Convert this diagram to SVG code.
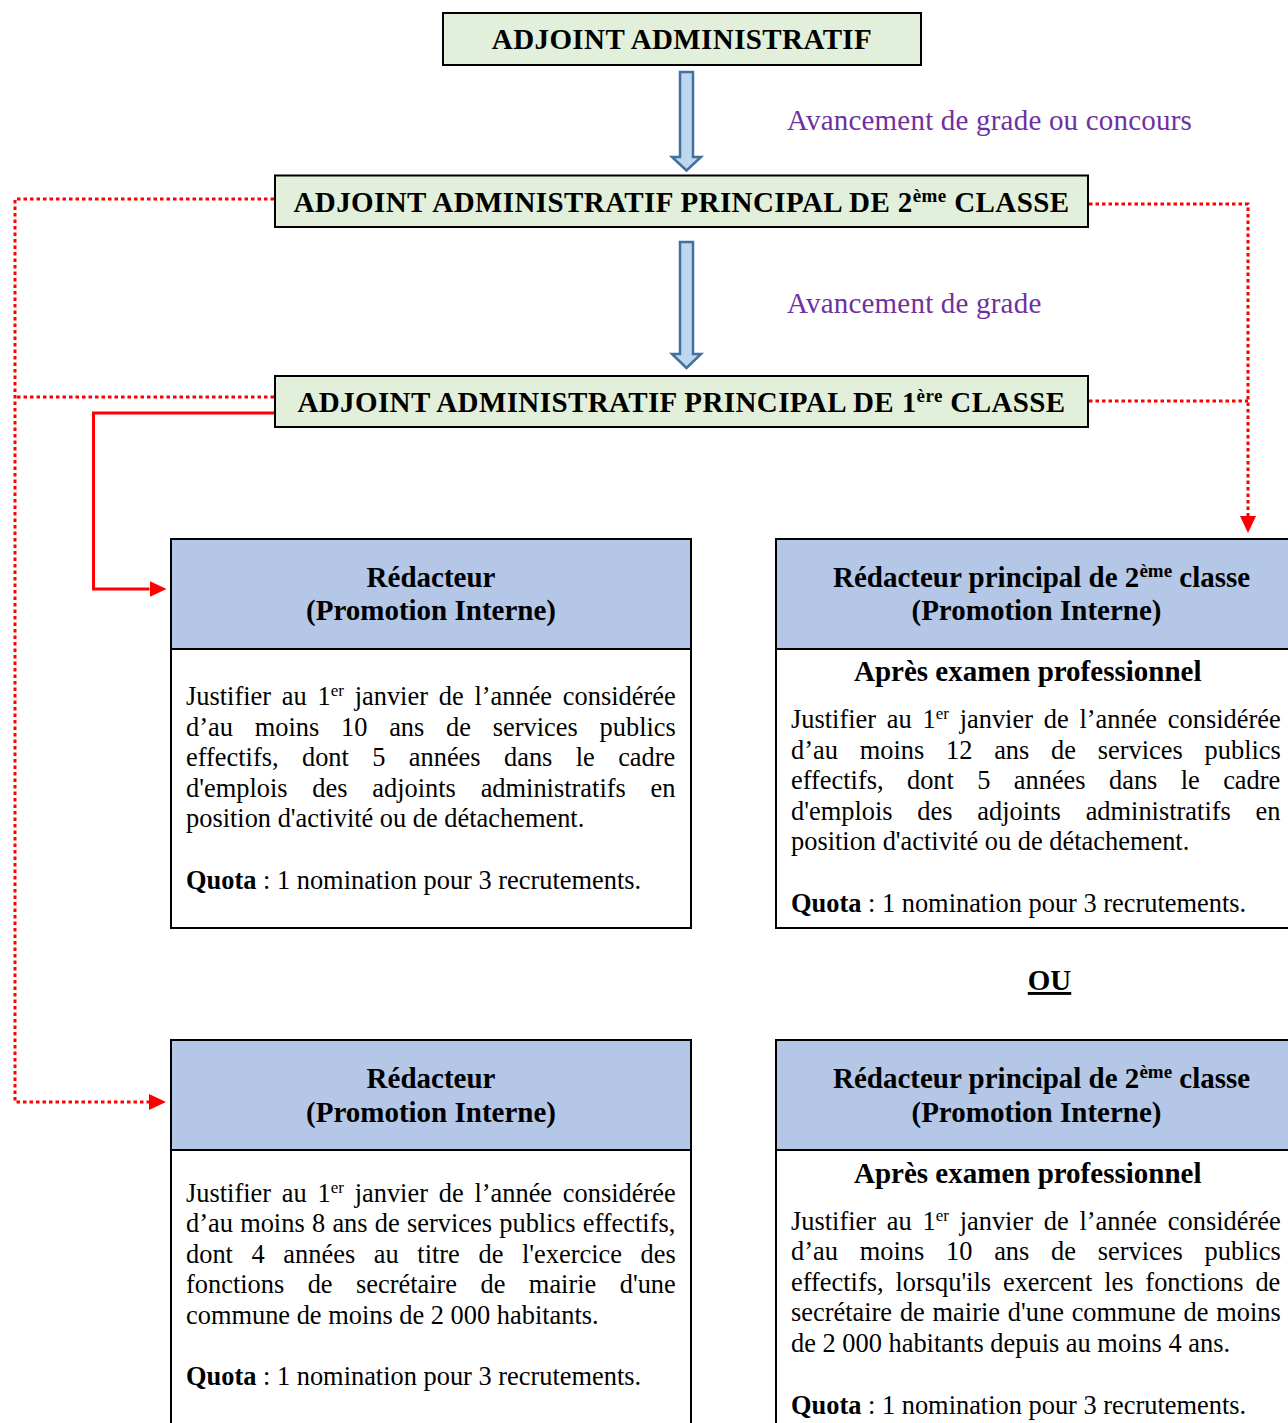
<svg xmlns="http://www.w3.org/2000/svg" width="1288" height="1423" viewBox="0 0 1288 1423">
<defs>
<style>
text{font-family:"Liberation Serif","Times New Roman",serif;fill:#000}
.hd{font-weight:bold;font-size:29px}
.caps{letter-spacing:0.4px}
.bd{font-size:26.4px}
.b{font-weight:bold}
.sup{font-size:17px}
.hsup{font-size:19px}
.pl{font-size:29px;fill:#7030A0;letter-spacing:0.2px}
.grade{fill:#E2EFDA;stroke:#000;stroke-width:2}
.head{fill:#B4C7E7;stroke:#000;stroke-width:2}
.card{fill:#FFFFFF;stroke:#000;stroke-width:2}
.blk{fill:#BDD7EE;stroke:#41719C;stroke-width:2.5;stroke-linejoin:miter}
.dot{fill:none;stroke:#FF0000;stroke-width:3;stroke-dasharray:3.5 3}
.sol{fill:none;stroke:#FF0000;stroke-width:3}
</style>
<marker id="ah" markerUnits="userSpaceOnUse" markerWidth="18" markerHeight="16" refX="0" refY="8" orient="auto">
<path d="M0,0 L17,8 L0,16 Z" fill="#FF0000"/>
</marker>
</defs>
<rect width="1288" height="1423" fill="#FFFFFF"/>

<g id="connectors">
<polygon class="blk" points="680,72 693,72 693,157 701,157 686.5,170.5 672,157 680,157"/>
<polygon class="blk" points="680,242 693,242 693,354 701,354 686.5,368 672,354 680,354"/>
<path class="dot" d="M274,199 H15 V1102 H149" marker-end="url(#ah)"/>
<path class="dot" d="M274,397 H15"/>
<path class="sol" d="M274,413 H93.5 V589 H149.5" marker-end="url(#ah)"/>
<path class="dot" d="M1089,204 H1248 V516" marker-end="url(#ah)"/>
<path class="dot" d="M1089,401 H1248"/>
</g>

<g id="label-avancement-concours">
<text class="pl" x="787" y="130">Avancement de grade ou concours</text>
</g>
<g id="label-avancement-grade">
<text class="pl" x="787" y="313">Avancement de grade</text>
</g>

<g id="adjoint">
<rect class="grade" x="443" y="13" width="478" height="52"/>
<text class="hd caps" x="682" y="49" text-anchor="middle">ADJOINT ADMINISTRATIF</text>
</g>

<g id="adjoint-p2">
<rect class="grade" x="275" y="175.5" width="813" height="51.5"/>
<text class="hd caps" x="681.5" y="212" text-anchor="middle">ADJOINT ADMINISTRATIF PRINCIPAL DE 2<tspan class="hsup" dy="-10">ème</tspan><tspan dy="10"> CLASSE</tspan></text>
</g>

<g id="adjoint-p1">
<rect class="grade" x="275" y="376" width="813" height="51"/>
<text class="hd caps" x="681.5" y="412" text-anchor="middle">ADJOINT ADMINISTRATIF PRINCIPAL DE 1<tspan class="hsup" dy="-10">ère</tspan><tspan dy="10"> CLASSE</tspan></text>
</g>

<g id="redacteur-1">
<rect class="card" x="171" y="539" width="520" height="389"/>
<rect class="head" x="171" y="539" width="520" height="110"/>
<text class="hd" x="431" y="587" text-anchor="middle">Rédacteur</text>
<text class="hd" x="431" y="620" text-anchor="middle">(Promotion Interne)</text>
<text class="bd" x="186" y="705" word-spacing="4.18">Justifier au 1<tspan class="sup" dy="-9">er</tspan><tspan dy="9"> janvier de l’année considérée</tspan></text>
<text class="bd" x="186" y="735.6" word-spacing="15.18">d’au moins 10 ans de services publics</text>
<text class="bd" x="186" y="766.2" word-spacing="16.78">effectifs, dont 5 années dans le cadre</text>
<text class="bd" x="186" y="796.8" word-spacing="18.2">d'emplois des adjoints administratifs en</text>
<text class="bd" x="186" y="827.4">position d'activité ou de détachement.</text>
<text class="bd" x="186" y="888.6"><tspan class="b">Quota</tspan> : 1 nomination pour 3 recrutements.</text>
</g>

<g id="redacteur-p2-1">
<rect class="card" x="776" y="539" width="520" height="389"/>
<rect class="head" x="776" y="539" width="520" height="110"/>
<text class="hd" x="833" y="587">Rédacteur principal de 2<tspan class="hsup" dy="-10">ème</tspan><tspan dy="10"> classe</tspan></text>
<text class="hd" x="911.5" y="620">(Promotion Interne)</text>
<text class="hd" x="854" y="681">Après examen professionnel</text>
<text class="bd" x="791" y="728" word-spacing="4.18">Justifier au 1<tspan class="sup" dy="-9">er</tspan><tspan dy="9"> janvier de l’année considérée</tspan></text>
<text class="bd" x="791" y="758.6" word-spacing="15.18">d’au moins 12 ans de services publics</text>
<text class="bd" x="791" y="789.2" word-spacing="16.78">effectifs, dont 5 années dans le cadre</text>
<text class="bd" x="791" y="819.8" word-spacing="18.2">d'emplois des adjoints administratifs en</text>
<text class="bd" x="791" y="850.4">position d'activité ou de détachement.</text>
<text class="bd" x="791" y="912"><tspan class="b">Quota</tspan> : 1 nomination pour 3 recrutements.</text>
</g>

<g id="ou">
<text class="hd" x="1049.5" y="990" text-anchor="middle" text-decoration="underline">OU</text>
</g>

<g id="redacteur-2">
<rect class="card" x="171" y="1040" width="520" height="400"/>
<rect class="head" x="171" y="1040" width="520" height="110"/>
<text class="hd" x="431" y="1088" text-anchor="middle">Rédacteur</text>
<text class="hd" x="431" y="1122" text-anchor="middle">(Promotion Interne)</text>
<text class="bd" x="186" y="1201.5" word-spacing="4.18">Justifier au 1<tspan class="sup" dy="-9">er</tspan><tspan dy="9"> janvier de l’année considérée</tspan></text>
<text class="bd" x="186" y="1232.1" word-spacing="0.66">d’au moins 8 ans de services publics effectifs,</text>
<text class="bd" x="186" y="1262.7" word-spacing="12.03">dont 4 années au titre de l'exercice des</text>
<text class="bd" x="186" y="1293.3" word-spacing="16.84">fonctions de secrétaire de mairie d'une</text>
<text class="bd" x="186" y="1323.9">commune de moins de 2 000 habitants.</text>
<text class="bd" x="186" y="1385.1"><tspan class="b">Quota</tspan> : 1 nomination pour 3 recrutements.</text>
</g>

<g id="redacteur-p2-2">
<rect class="card" x="776" y="1040" width="520" height="400"/>
<rect class="head" x="776" y="1040" width="520" height="110"/>
<text class="hd" x="833" y="1088">Rédacteur principal de 2<tspan class="hsup" dy="-10">ème</tspan><tspan dy="10"> classe</tspan></text>
<text class="hd" x="911.5" y="1122">(Promotion Interne)</text>
<text class="hd" x="854" y="1183">Après examen professionnel</text>
<text class="bd" x="791" y="1229.5" word-spacing="4.18">Justifier au 1<tspan class="sup" dy="-9">er</tspan><tspan dy="9"> janvier de l’année considérée</tspan></text>
<text class="bd" x="791" y="1260.1" word-spacing="15.18">d’au moins 10 ans de services publics</text>
<text class="bd" x="791" y="1290.7" word-spacing="5.26">effectifs, lorsqu'ils exercent les fonctions de</text>
<text class="bd" x="791" y="1321.3" word-spacing="1.2">secrétaire de mairie d'une commune de moins</text>
<text class="bd" x="791" y="1351.9">de 2 000 habitants depuis au moins 4 ans.</text>
<text class="bd" x="791" y="1413.5"><tspan class="b">Quota</tspan> : 1 nomination pour 3 recrutements.</text>
</g>
</svg>
